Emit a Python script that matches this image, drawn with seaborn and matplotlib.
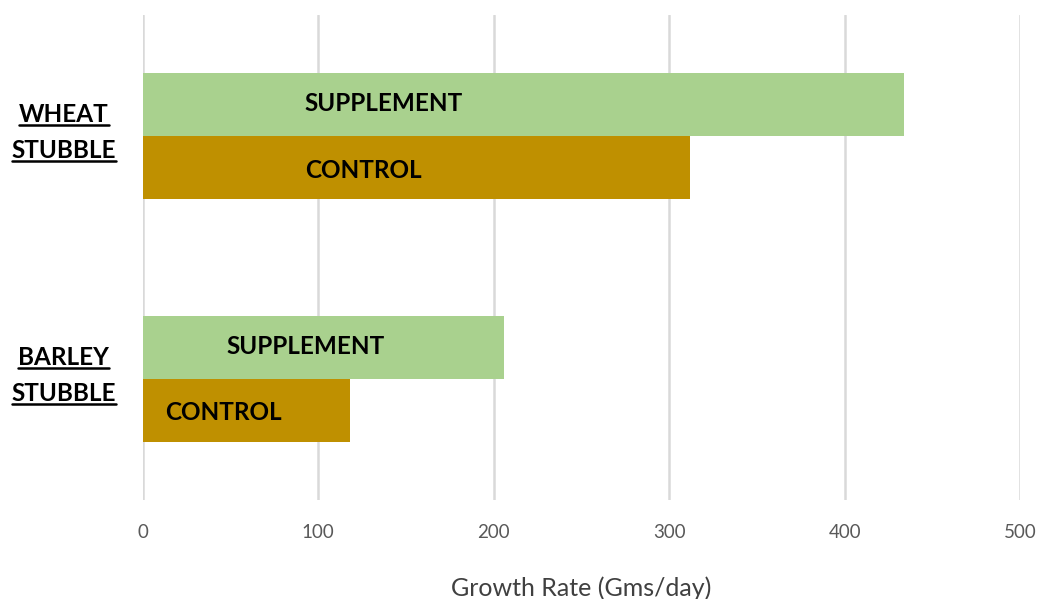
import matplotlib.pyplot as plt
import seaborn as sns
import pandas as pd
from matplotlib.lines import Line2D

# * Data
stubbles = ["WHEAT\nSTUBBLE", "BARLEY\nSTUBBLE"]
treatments = ["SUPPLEMENT", "CONTROL"]
supplement = [434, 206]
control = [312, 118]
# centre of the in-bar labels along the x axis (data units)
supplement_label_x = [137, 93]
control_label_x = [126, 46]

df = pd.DataFrame({
    "stubble": stubbles * 2,
    "treatment": [treatments[0]] * 2 + [treatments[1]] * 2,
    "rate": supplement + control,
})

sns.set_style("white")
plt.rcParams["font.family"] = ["Lato", "DejaVu Sans"]

fig, ax = plt.subplots(figsize=(10.42, 5.99), dpi=100)
fig.subplots_adjust(left=0.137, right=0.979, top=0.975, bottom=0.165)

sns.barplot(data=df, y="stubble", x="rate", hue="treatment", order=stubbles,
            hue_order=treatments, palette=["#A9D18E", "#BF9000"], saturation=1,
            orient="h", width=0.52, linewidth=0, errorbar=None, legend=False,
            ax=ax, zorder=2)

ax.set_xlim(0, 500)
ax.set_ylim(1.5, -0.5)
ax.set_xticks(range(0, 501, 100))
ax.grid(axis="x", color="#D9D9D9", linewidth=1.8, zorder=0)
ax.set_axisbelow(True)
for s in ax.spines.values():
    s.set_visible(False)
ax.tick_params(axis="x", length=0, pad=17, labelsize=13.5, labelcolor="#595959")
ax.tick_params(axis="y", length=0)
ax.set_yticklabels([])
ax.set_ylabel("")
ax.set_xlabel("Growth Rate (Gms/day)", fontsize=18, color="#404040", labelpad=26)

# * Labels inside the bars
for i in range(len(stubbles)):
    ax.text(supplement_label_x[i], i - 0.135, treatments[0], ha="center", va="center",
            fontsize=17.5, fontweight="bold", color="black")
    ax.text(control_label_x[i], i + 0.14, treatments[1], ha="center", va="center",
            fontsize=17.5, fontweight="bold", color="black")

# * Underlined category labels on the left
texts = []
for i, name in enumerate(stubbles):
    for j, line in enumerate(name.split("\n")):
        t = ax.text(-0.09, i - 0.09 + j * 0.15, line, transform=ax.get_yaxis_transform(),
                    ha="center", va="center", fontsize=17.5, fontweight="bold", color="black")
        texts.append(t)

fig.canvas.draw()
renderer = fig.canvas.get_renderer()
inv = fig.transFigure.inverted()
for t in texts:
    bb = t.get_window_extent(renderer)
    (x0, y0), (x1, _) = inv.transform([(bb.x0, bb.y0 + 1), (bb.x1, bb.y0 + 1)])
    fig.add_artist(Line2D([x0, x1], [y0, y0], color="black", linewidth=1.8))

plt.savefig("out.png", dpi=100)
